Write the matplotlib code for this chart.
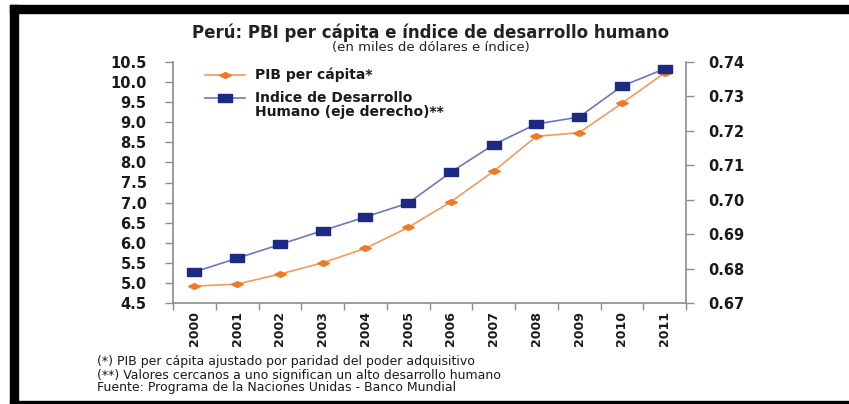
import numpy as np
import matplotlib
matplotlib.use("Agg")
import matplotlib.pyplot as plt
from matplotlib.lines import Line2D
from matplotlib.patches import Rectangle
from matplotlib.ticker import FormatStrFormatter, FixedLocator

# Data
years = ["2000", "2001", "2002", "2003", "2004", "2005",
         "2006", "2007", "2008", "2009", "2010", "2011"]
pib_per_capita = [4.92, 4.97, 5.22, 5.50, 5.86, 6.38,
                  7.02, 7.78, 8.65, 8.74, 9.47, 10.23]
idh = [0.679, 0.683, 0.687, 0.691, 0.695, 0.699,
       0.708, 0.716, 0.722, 0.724, 0.733, 0.738]

orange = "#EE7A26"
orange_line = "#F29A5C"
navy = "#1C2A84"
navy_line = "#6A78BE"
spine_gray = "#8C8C8C"
txt = "#1A1A1A"

plt.rcParams["font.family"] = ["DejaVu Sans"]

fig = plt.figure(figsize=(8.49, 4.04), dpi=100)
ax = fig.add_axes([173 / 849, 1 - 303 / 404, (686 - 173) / 849, (303 - 62) / 404])
ax2 = ax.twinx()

x = np.arange(len(years))
rect_marker = [(-1.6, -1), (1.6, -1), (1.6, 1), (-1.6, 1), (-1.6, -1)]
diamond_marker = [(-1.6, 0), (0, -0.8), (1.6, 0), (0, 0.8), (-1.6, 0)]

ax.plot(x, pib_per_capita, color=orange_line, lw=1.2, marker=diamond_marker,
        ms=8.5, mfc=orange, mec=orange, zorder=3)
ax2.plot(x, idh, color=navy_line, lw=1.2, marker=rect_marker,
         ms=9.5, mfc=navy, mec=navy, zorder=3)

ax.set_xlim(-0.5, len(years) - 0.5)
ax.set_ylim(4.5, 10.5)
ax.set_yticks(np.arange(4.5, 10.51, 0.5))
ax.yaxis.set_major_formatter(FormatStrFormatter("%.1f"))
ax2.set_ylim(0.67, 0.74)
ax2.set_yticks(np.arange(0.67, 0.7401, 0.01))
ax2.yaxis.set_major_formatter(FormatStrFormatter("%.2f"))

ax.set_xticks(x)
ax.set_xticklabels(years, rotation=90, fontsize=9, fontweight="bold", color=txt)
ax.xaxis.set_minor_locator(FixedLocator(np.arange(-0.5, len(years), 1.0)))
ax.tick_params(axis="x", which="major", length=0, pad=6)
ax.tick_params(axis="x", which="minor", length=5, color=spine_gray, width=1)

for a in (ax, ax2):
    for s in a.spines.values():
        s.set_visible(False)
ax.spines["left"].set_visible(True)
ax.spines["bottom"].set_visible(True)
ax2.spines["right"].set_visible(True)
for s in (ax.spines["left"], ax.spines["bottom"], ax2.spines["right"]):
    s.set_color(spine_gray)
    s.set_linewidth(1.2)

ax.tick_params(axis="y", length=6, color=spine_gray, width=1, pad=13,
               labelsize=10.5, labelcolor=txt)
ax2.tick_params(axis="y", length=6, color=spine_gray, width=1, pad=10,
                labelsize=10.5, labelcolor=txt)
for lab in ax.get_yticklabels() + ax2.get_yticklabels():
    lab.set_fontweight("bold")

# titles
fig.text(0.507, 1 - 33 / 404, "Perú: PBI per cápita e índice de desarrollo humano",
         ha="center", va="center", fontsize=12, fontweight="bold", color="#222222")
fig.text(0.507, 1 - 48 / 404, "(en miles de dólares e índice)",
         ha="center", va="center", fontsize=9.5, color="#222222")

# legend drawn by hand
fig.add_artist(Line2D([205 / 849, 245 / 849], [1 - 75 / 404] * 2, color=orange_line,
                      lw=1.2, transform=fig.transFigure))
fig.add_artist(Line2D([225 / 849], [1 - 75 / 404], marker=diamond_marker, ms=8.5,
                      mfc=orange, mec=orange, transform=fig.transFigure))
fig.add_artist(Line2D([205 / 849, 245 / 849], [1 - 98 / 404] * 2, color=navy_line,
                      lw=1.2, transform=fig.transFigure))
fig.add_artist(Line2D([225 / 849], [1 - 98 / 404], marker=rect_marker, ms=9.5,
                      mfc=navy, mec=navy, transform=fig.transFigure))
fig.text(255 / 849, 1 - 75 / 404, "PIB per cápita*", ha="left", va="center",
         fontsize=10, fontweight="bold", color=txt)
fig.text(255 / 849, 1 - 98 / 404, "Indice de Desarrollo", ha="left", va="center",
         fontsize=10, fontweight="bold", color=txt)
fig.text(255 / 849, 1 - 112 / 404, "Humano (eje derecho)**", ha="left", va="center",
         fontsize=10, fontweight="bold", color=txt)

# footnotes
notes = ["(*) PIB per cápita ajustado por paridad del poder adquisitivo",
         "(**) Valores cercanos a uno significan un alto desarrollo humano",
         "Fuente: Programa de la Naciones Unidas - Banco Mundial"]
for i, n in enumerate(notes):
    fig.text(97 / 849, 1 - (362 + 13 * i) / 404, n, ha="left", va="center",
             fontsize=9, color=txt)

# black frame
fig.add_artist(Rectangle((10 / 849, 0), 8 / 849, 1 - 5 / 404, color="black",
                         transform=fig.transFigure))
fig.add_artist(Rectangle((10 / 849, 1 - 13 / 404), 1, 8 / 404, color="black",
                         transform=fig.transFigure))
fig.add_artist(Rectangle((10 / 849, 0), 1, 3 / 404, color="black",
                         transform=fig.transFigure))

fig.savefig("out.png", dpi=100)
